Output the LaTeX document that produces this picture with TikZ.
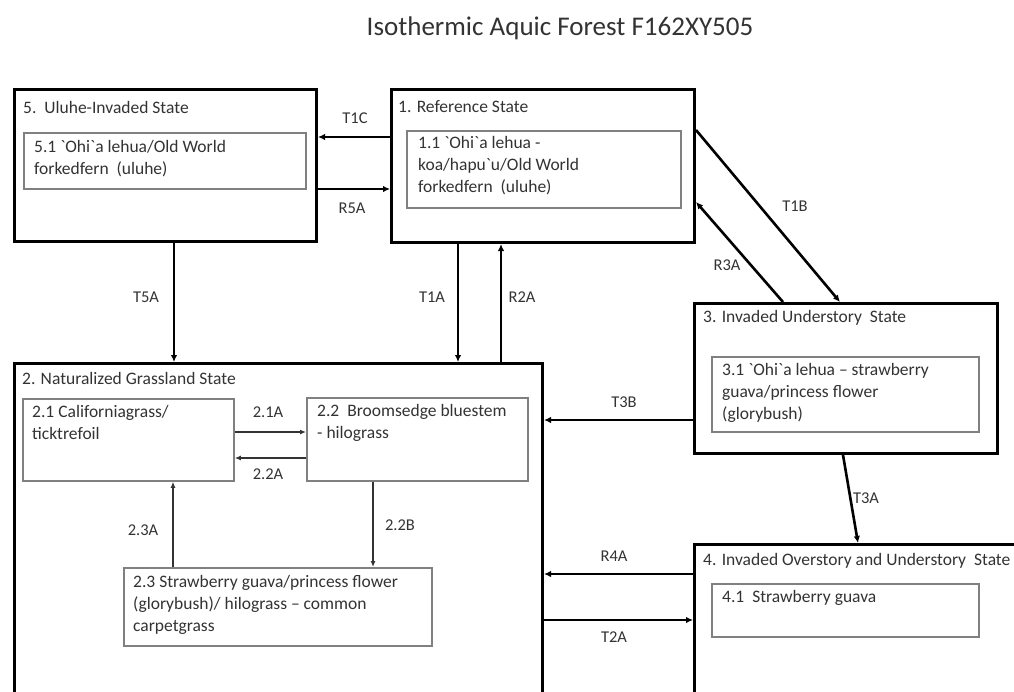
\documentclass[tikz,border=0pt]{standalone}
\usepackage{fontspec}
\setmainfont{Carlito}[Ligatures=TeXOff]
\usetikzlibrary{arrows.meta}
\definecolor{txt}{HTML}{333333}
\definecolor{inner}{HTML}{808080}
\begin{document}
\begin{tikzpicture}[x=1pt,y=-1pt,
  outerbox/.style={draw=black, line width=3pt, rectangle, inner sep=0pt, anchor=north west},
  innerbox/.style={draw=inner, line width=1.8pt, rectangle, inner sep=0pt, anchor=north west},
  boxtitle/.style={anchor=west, inner sep=0pt, text=txt, font=\fontsize{17.5}{22}\selectfont},
  boxtext/.style={anchor=north west, inner sep=0pt, align=left, text=txt, font=\fontsize{17.5}{22}\selectfont},
  lab/.style={inner sep=0pt, text=txt, font=\fontsize{16.5}{20}\selectfont},
  conn/.style={draw=black, line width=2.6pt, -{Latex[length=7pt,width=6.5pt]}},
  iconn/.style={draw=black!80, line width=1.3pt, -{Latex[length=6pt,width=5pt]}}
]
\clip (0,0) rectangle (1014,691);
\fill[white] (0,0) rectangle (1014,691);

\node[inner sep=0pt, text=txt, font=\fontsize{27}{32}\selectfont] (title) at (560,28) {Isothermic Aquic Forest F162XY505};

% outer state boxes
\node[outerbox, minimum width=302pt, minimum height=152pt] (b5) at (13,88) {};
\node[outerbox, minimum width=303pt, minimum height=153pt] (b1) at (390,88) {};
\node[outerbox, minimum width=303pt, minimum height=150pt] (b3) at (693,302) {};
\node[outerbox, minimum width=528pt, minimum height=360pt] (b2) at (13,362) {};
\node[outerbox, minimum width=350pt, minimum height=180pt] (b4) at (693,543) {};

% state titles
\node[boxtitle] (t5) at (23,107) {5.\ \ Uluhe-Invaded State};
\node[boxtitle] (t1) at (398,107) {1. Reference State};
\node[boxtitle] (t3) at (703,318) {3. Invaded Understory\ \ State};
\node[boxtitle] (t2) at (22,378) {2. Naturalized Grassland State};
\node[boxtitle] (t4) at (703,561) {4. Invaded Overstory and Understory\ \ State};

% community boxes
\node[innerbox, minimum width=282pt, minimum height=56pt] (i5) at (23,132) {};
\node[innerbox, minimum width=274pt, minimum height=77pt] (i1) at (406,130) {};
\node[innerbox, minimum width=267pt, minimum height=75pt] (i3) at (711,356) {};
\node[innerbox, minimum width=267pt, minimum height=53pt] (i4) at (711,583) {};
\node[innerbox, minimum width=211pt, minimum height=82pt] (i21) at (22,398) {};
\node[innerbox, minimum width=221pt, minimum height=83pt] (i22) at (306,397) {};
\node[innerbox, minimum width=308pt, minimum height=78pt] (i23) at (123,567) {};

% community texts
\node[boxtext] (x5) at (34,140) {5.1 `Ohi`a lehua/Old World\\forkedfern\ \ (uluhe)};
\node[boxtext] (x1) at (418,136) {1.1 `Ohi`a lehua -\\koa/hapu`u/Old World\\forkedfern\ \ (uluhe)};
\node[boxtext] (x3) at (722,363) {3.1 `Ohi`a lehua – strawberry\\guava/princess flower\\(glorybush)};
\node[boxtext] (x4) at (722,590) {4.1\ \ Strawberry guava};
\node[boxtext] (x21) at (32,405) {2.1 Californiagrass/\\ticktrefoil};
\node[boxtext] (x22) at (317,404) {2.2\ \ Broomsedge bluestem\\- hilograss};
\node[boxtext] (x23) at (133,575) {2.3 Strawberry guava/princess flower\\(glorybush)/ hilograss – common\\carpetgrass};

% transitions between states
\draw[conn] (b1.west |- 0,137) -- (b5.east |- 0,137);
\node[lab] (lT1C) at (355,118) {T1C};
\draw[conn] (b5.east |- 0,189) -- (b1.west |- 0,189);
\node[lab] (lR5A) at (352,208) {R5A};
\draw[conn] (b5.south -| 174,0) -- (b2.north -| 174,0);
\node[lab] (lT5A) at (146,297) {T5A};
\draw[conn] (b1.south -| 458,0) -- (b2.north -| 458,0);
\node[lab] (lT1A) at (432,297) {T1A};
\draw[conn] (b2.north -| 501,0) -- (b1.south -| 501,0);
\node[lab] (lR2A) at (522,297) {R2A};
\draw[conn] (b1.east |- 0,130) -- (b3.north -| 840,0);
\node[lab] (lT1B) at (795,206) {T1B};
\draw[conn] (b3.north -| 783,0) -- (b1.east |- 0,202);
\node[lab] (lR3A) at (727,265) {R3A};
\draw[conn] (b3.west |- 0,420) -- (b2.east |- 0,420);
\node[lab] (lT3B) at (624,402) {T3B};
\draw[conn] (b3.south -| 843,0) -- (b4.north -| 858,0);
\node[lab] (lT3A) at (866,498) {T3A};
\draw[conn] (b4.west |- 0,574) -- (b2.east |- 0,574);
\node[lab] (lR4A) at (614,556) {R4A};
\draw[conn] (b2.east |- 0,620) -- (b4.west |- 0,620);
\node[lab] (lT2A) at (614,637) {T2A};

% transitions between communities
\draw[iconn] (i21.east |- 0,432) -- (i22.west |- 0,432);
\node[lab] (l21A) at (268,412) {2.1A};
\draw[iconn] (i22.west |- 0,458) -- (i21.east |- 0,458);
\node[lab] (l22A) at (268,474) {2.2A};
\draw[iconn] (i22.south -| 373,0) -- (i23.north -| 373,0);
\node[lab] (l22B) at (400,525) {2.2B};
\draw[iconn] (i23.north -| 173,0) -- (i21.south -| 173,0);
\node[lab] (l23A) at (143,530) {2.3A};
\end{tikzpicture}
\end{document}
